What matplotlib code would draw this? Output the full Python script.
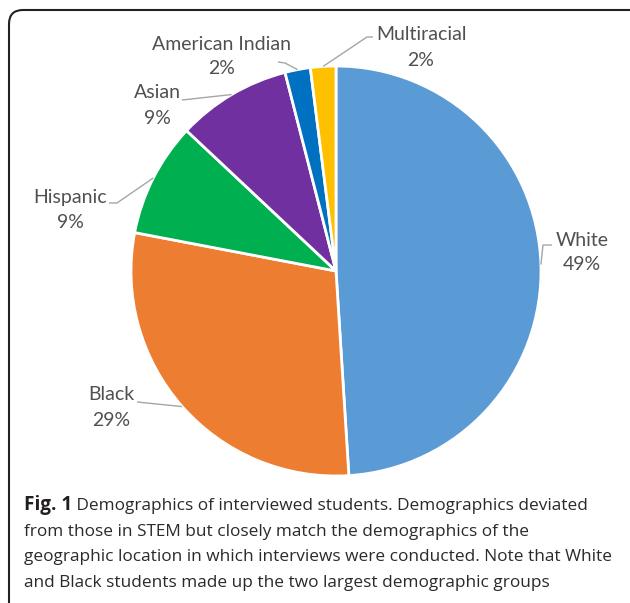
import numpy as np
import matplotlib
matplotlib.use("Agg")
import matplotlib.pyplot as plt
from matplotlib.patches import FancyBboxPatch

categories = ["White", "Black", "Hispanic", "Asian", "American Indian", "Multiracial"]
percents = [49, 29, 9, 9, 2, 2]
colors = ["#5B9BD5", "#ED7D31", "#00B050", "#7030A0", "#0070C0", "#FFC000"]
caption_bold = "Fig. 1"
caption_lines = [
    " Demographics of interviewed students. Demographics deviated",
    "from those in STEM but closely match the demographics of the",
    "geographic location in which interviews were conducted. Note that White",
    "and Black students made up the two largest demographic groups",
]

W, H = 630, 603
fig = plt.figure(figsize=(W / 100, H / 100), dpi=100)
ax = fig.add_axes([0, 0, 1, 1])

cx, cy, R = 336, H - 271, 205
wedges, _ = ax.pie(percents, colors=colors, startangle=90, counterclock=False,
                   center=(cx, cy), radius=R,
                   wedgeprops=dict(edgecolor="white", linewidth=2))
ax.set_xlim(0, W)
ax.set_ylim(0, H)
ax.set_aspect("equal")
ax.axis("off")

# label layout: (text center x, text y px), elbow (x, y px), end (x, y px)
layout = {
    "White": ((582, 240), (543, 245), (552, 245)),
    "Black": ((111, 395), (137, 402), (137, 402)),
    "Hispanic": ((70, 197), (117, 203), (109, 203)),
    "Asian": ((157, 93), (182, 100), (182, 100)),
    "American Indian": ((222, 44), (285, 63), (278, 62)),
    "Multiracial": ((421, 35), (367, 37), (373, 37)),
}
lab_font = dict(family=["Lato", "DejaVu Sans"], fontsize=14, color="#505050")
for w, cat, p in zip(wedges, categories, percents):
    ang = np.deg2rad((w.theta1 + w.theta2) / 2)
    px, py = cx + R * np.cos(ang), cy + R * np.sin(ang)
    (tx, ty), (ex, ey), (fx, fy) = layout[cat]
    ax.plot([px, ex, fx], [py, H - ey, H - fy], color="#A6A6A6", lw=1, solid_capstyle="butt")
    ax.text(tx, H - ty, cat, ha="center", va="center", **lab_font)
    ax.text(tx, H - ty - 25, f"{p}%", ha="center", va="center", **lab_font)

# frame
frame = FancyBboxPatch((9, -20), 660, H - 10 + 20, boxstyle="round,pad=0,rounding_size=14",
                       transform=ax.transData, fill=False, edgecolor="#222222", lw=1.5,
                       clip_on=False)
ax.add_patch(frame)

cap_font = dict(family=["Open Sans", "DejaVu Sans"], fontsize=12.4, color="#2a2a2a")
baselines = [510, 535.7, 561, 587]
fig.canvas.draw()
r = fig.canvas.get_renderer()
tb = ax.text(24, H - baselines[0], caption_bold, ha="left", va="baseline",
             fontweight="bold", family=["Open Sans", "DejaVu Sans"], fontsize=13.6,
             color="#231F20")
bb = tb.get_window_extent(renderer=r)
x0 = ax.transData.inverted().transform((bb.x1, 0))[0]
for i, line in enumerate(caption_lines):
    ax.text(x0 if i == 0 else 24, H - baselines[i], line, ha="left", va="baseline",
            **cap_font)

fig.savefig("out.png", dpi=100)
